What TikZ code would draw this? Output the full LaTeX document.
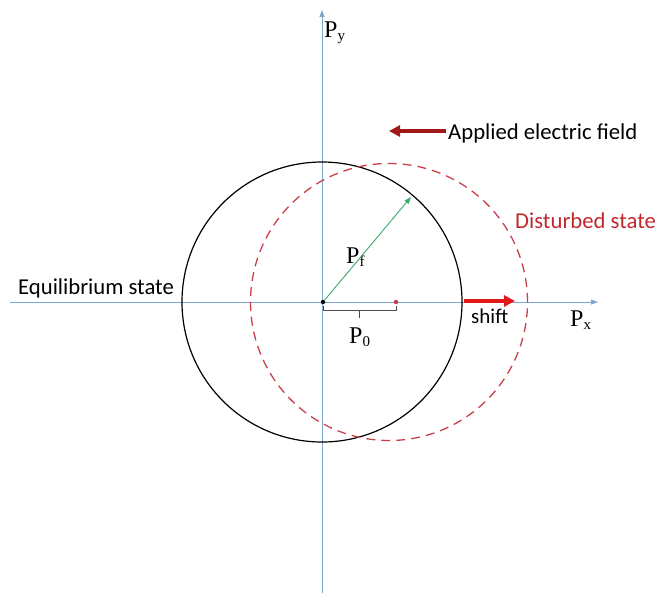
\documentclass[tikz,border=0pt]{standalone}
\usepackage{fontspec}
\setmainfont{Carlito}
\newfontfamily\serifP{Liberation Serif}
\usetikzlibrary{arrows.meta}
\definecolor{axisblue}{HTML}{7FA8CF}
\definecolor{dashred}{HTML}{C8404A}
\definecolor{fieldred}{HTML}{A01818}
\definecolor{shiftred}{HTML}{E01818}
\definecolor{greenarr}{HTML}{3CA86A}
\definecolor{txtred}{HTML}{C0282E}
\newcommand{\psub}[1]{\textsubscript{\fontsize{15}{15}\selectfont #1}}
\tikzset{
  axis/.style={draw=axisblue, line width=0.9pt, -{Triangle[length=7pt,width=5pt]}},
  lab/.style={font=\fontsize{22.7}{26}\selectfont, inner sep=0pt},
  plab/.style={font=\serifP\fontsize{24}{26}\selectfont, inner sep=0pt},
  thickarrow/.style={line width=3.5pt, -{Triangle[length=11pt,width=11pt]}},
}
\begin{document}
\begin{tikzpicture}[x=1pt,y=-1pt]
\useasboundingbox (0,0) rectangle (663,600);
% axes
\coordinate (xl) at (10,302);
\coordinate (xr) at (598,302);
\coordinate (yb) at (322,593);
\coordinate (yt) at (322,10);
\draw[axis] (xl) -- (xr);
\draw[axis] (yb) -- (yt);
% circles
\node[draw=black, line width=1.2pt, circle, minimum size=280pt, inner sep=0pt] (eq) at (322,302) {};
\node[draw=dashred, line width=1.3pt, dash pattern=on 9pt off 6pt, circle, minimum size=277pt, inner sep=0pt] (dist) at (389,302) {};
% points
\node[fill=black, circle, inner sep=0pt, minimum size=4.5pt] (o) at (323,302) {};
\node[fill=dashred, circle, inner sep=0pt, minimum size=4.5pt] (r) at (396,302) {};
% green vector
\coordinate (pf) at (411,197);
\draw[greenarr, line width=0.9pt, -{Triangle[length=7pt,width=5pt]}] (o) -- (pf);
\node[plab, anchor=base west] (pflab) at (346,263) {P\psub{f}};
% brace
\coordinate (b1) at (323,310);
\coordinate (b2) at (396,310);
\coordinate (bm) at (359.5,318);
\draw[black!70, line width=0.7pt] (323,306) -- (b1) -- (b2) -- (396,306);
\draw[black!70, line width=0.7pt] (359.5,310) -- (bm);
\node[plab, anchor=base west] (p0) at (349,343) {P\psub{0}};
% labels
\node[plab, anchor=base west] (py) at (324,37) {P\psub{y}};
\node[plab, anchor=base west] (px) at (570,326) {P\psub{x}};
\node[lab, anchor=west] (eqlab) at (18,288) {Equilibrium state};
\node[lab, anchor=west, text=txtred] (dlab) at (515,221) {Disturbed state};
\node[lab, anchor=west] (flab) at (448,133) {Applied electric field};
\coordinate (fa1) at (446,131);
\coordinate (fa2) at (389,131);
\draw[fieldred, thickarrow] (fa1) -- (fa2);
\coordinate (sa1) at (464,301);
\coordinate (sa2) at (515,301);
\draw[shiftred, thickarrow] (sa1) -- (sa2);
\node[lab, anchor=west, font=\fontsize{21}{24}\selectfont] (slab) at (471,316) {shift};
\end{tikzpicture}
\end{document}
